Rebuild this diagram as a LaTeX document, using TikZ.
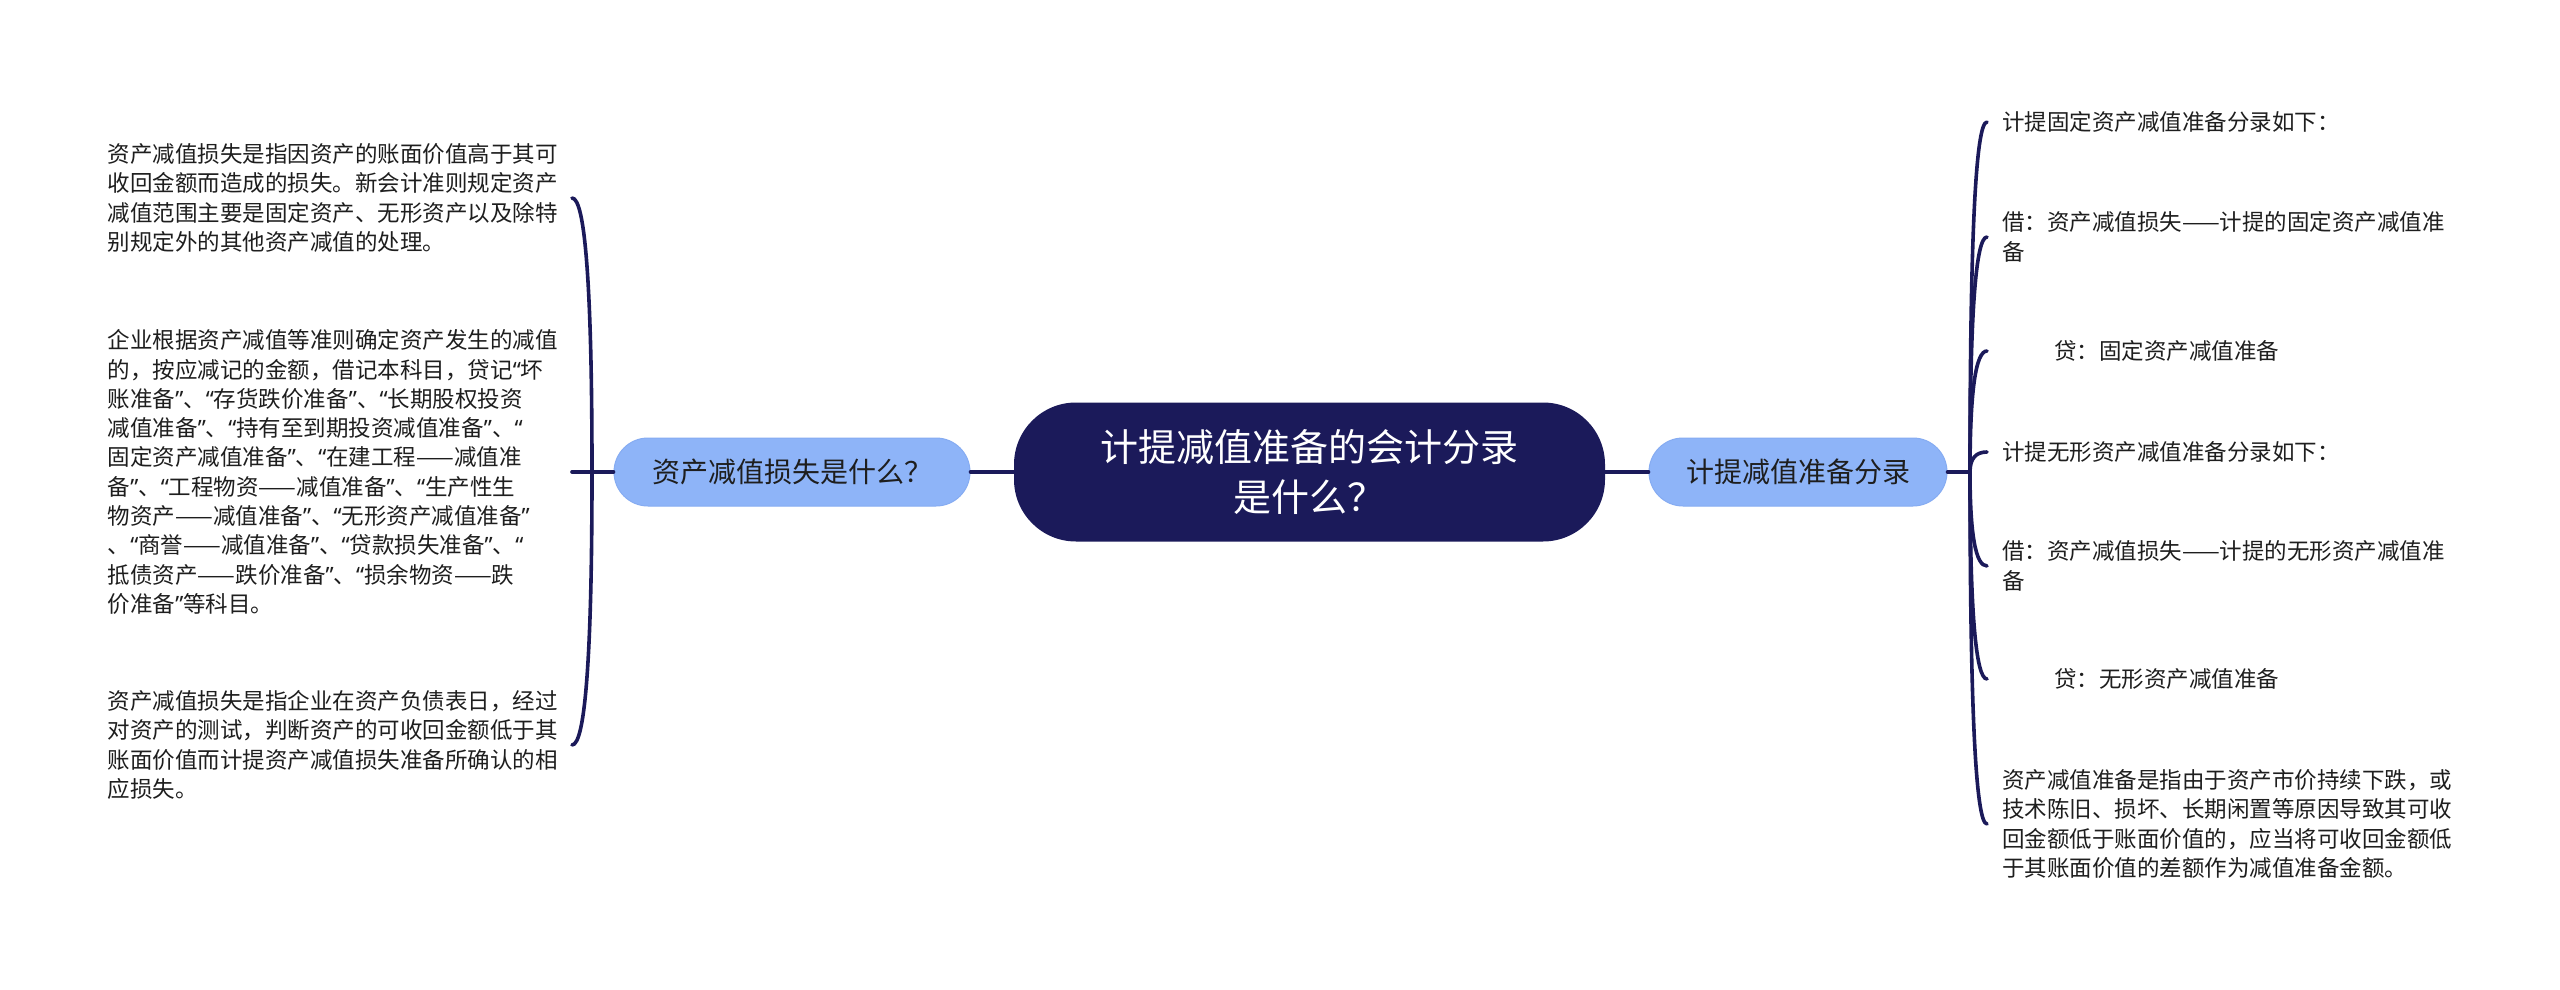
\documentclass[tikz,border=0pt]{standalone}
\usepackage{fontspec}
\setmainfont{Noto Sans CJK SC}
\newfontfamily\quotefont{Noto Sans}
\newcommand{\qo}{{\quotefont “}}
\newcommand{\qc}{{\quotefont ”}}
\usetikzlibrary{calc}
\definecolor{navy}{HTML}{1B1A5A}
\definecolor{skyfill}{HTML}{8EB4F8}
\definecolor{skyline}{HTML}{86ACF2}
\definecolor{txt}{HTML}{1E1E1E}
\tikzset{
  conn/.style={draw=navy, line width=3.6pt, line cap=round},
  branch/.style={to path={.. controls ($(\tikztostart)!0.667!(\tikztostart |- \tikztotarget)$) and ($(\tikztotarget)!0.667!(\tikztostart |- \tikztotarget)$) .. (\tikztotarget)}},
  rootbox/.style={fill=navy, rounded corners=62pt, minimum width=591pt, minimum height=139pt, text=white, align=center, inner sep=0pt, font=\fontsize{38}{50}\selectfont},
  subbox/.style={fill=skyfill, draw=skyline, line width=1pt, rounded corners=34pt, minimum height=68pt, text=txt, inner sep=0pt, font=\fontsize{28}{34}\selectfont},
  leftleaf/.style={anchor=east, text width=464pt, inner xsep=0pt, inner ysep=2pt, align=left, text=txt, font=\fontsize{22.5}{29.3}\selectfont},
  rightleaf/.style={anchor=west, inner xsep=15pt, inner ysep=2pt, align=left, text=txt, font=\fontsize{22.5}{29.3}\selectfont},
}
\begin{document}
\begin{tikzpicture}[x=1pt, y=-1pt]
\useasboundingbox (0,0) rectangle (2560,990);
\fill[white] (0,0) rectangle (2560,990);

\node[rootbox] (c) at (1309.5,472) {计提减值准备的会计分录\\是什么？};
\node[subbox, minimum width=356pt] (lc) at (792,472) {资产减值损失是什么？};
\node[subbox, minimum width=298pt] (rc) at (1798,472) {计提减值准备分录};

\coordinate (jl) at (592,472);
\coordinate (jr) at (1970,472);

% left leaves
\node[leftleaf] (l1) at (572,198) {资产减值损失是指因资产的账面价值高于其可\\收回金额而造成的损失。新会计准则规定资产\\减值范围主要是固定资产、无形资产以及除特\\别规定外的其他资产减值的处理。};
\node[leftleaf] (l2) at (572,472) {企业根据资产减值等准则确定资产发生的减值\\的，按应减记的金额，借记本科目，贷记\qo 坏\\账准备\qc 、\qo 存货跌价准备\qc 、\qo 长期股权投资\\减值准备\qc 、\qo 持有至到期投资减值准备\qc 、\qo\\固定资产减值准备\qc 、\qo 在建工程——减值准\\备\qc 、\qo 工程物资——减值准备\qc 、\qo 生产性生\\物资产——减值准备\qc 、\qo 无形资产减值准备\qc\\、\qo 商誉——减值准备\qc 、\qo 贷款损失准备\qc 、\qo\\抵债资产——跌价准备\qc 、\qo 损余物资——跌\\价准备\qc 等科目。};
\node[leftleaf] (l3) at (572,745) {资产减值损失是指企业在资产负债表日，经过\\对资产的测试，判断资产的可收回金额低于其\\账面价值而计提资产减值损失准备所确认的相\\应损失。};

% right leaves
\node[rightleaf] (r1) at (1987,122) {计提固定资产减值准备分录如下：};
\node[rightleaf] (r2) at (1987,237) {借：资产减值损失——计提的固定资产减值准\\备};
\node[rightleaf] (r3) at (1987,351) {\hspace*{52pt}贷：固定资产减值准备};
\node[rightleaf] (r4) at (1987,452) {计提无形资产减值准备分录如下：};
\node[rightleaf] (r5) at (1987,566) {借：资产减值损失——计提的无形资产减值准\\备};
\node[rightleaf] (r6) at (1987,679) {\hspace*{52pt}贷：无形资产减值准备};
\node[rightleaf] (r7) at (1987,824) {资产减值准备是指由于资产市价持续下跌，或\\技术陈旧、损坏、长期闲置等原因导致其可收\\回金额低于账面价值的，应当将可收回金额低\\于其账面价值的差额作为减值准备金额。};

% connectors
\draw[conn] (c.west) -- (lc.east);
\draw[conn] (c.east) -- (rc.west);
\draw[conn] (lc.west) -- (jl);
\draw[conn] (jl) -- (l2.east);
\draw[conn] (jl) to[branch] (l1.east);
\draw[conn] (jl) to[branch] (l3.east);
\draw[conn] (rc.east) -- (jr);
\foreach \t in {r1,r2,r3,r4,r5,r6,r7}{
  \draw[conn] (jr) to[branch] (\t.west);
}
\end{tikzpicture}
\end{document}
